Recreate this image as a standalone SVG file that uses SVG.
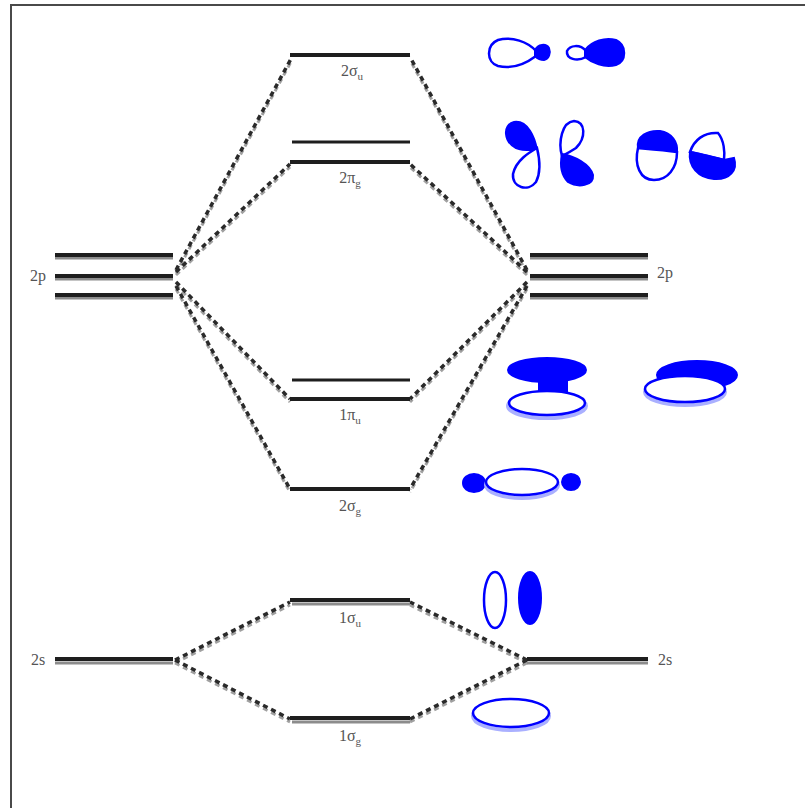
<svg xmlns="http://www.w3.org/2000/svg" width="805" height="808" viewBox="0 0 805 808">
  <style>
    .lvl { stroke: #1e1e1e; stroke-width: 4; fill: none; }
    .lvlsh { stroke: #8c8c8c; stroke-width: 3; fill: none; }
    .thin { stroke: #1e1e1e; stroke-width: 3; fill: none; }
    .dash { stroke: #2a2a2a; stroke-width: 3.5; stroke-dasharray: 5 4; fill: none; }
    .dashsh { stroke: #a0a0a0; stroke-width: 3; stroke-dasharray: 5 4; fill: none; }
    .lbl { font-family: "Liberation Serif", "DejaVu Serif", serif; font-size: 16px; fill: #555; text-anchor: middle; }
    .sub { font-size: 11px; }
    .fill { fill: #0000ff; stroke: #0000ff; stroke-width: 2; }
    .open { fill: #ffffff; stroke: #0000ff; stroke-width: 2.5; }
    .shadow { fill: none; stroke: #aab0ff; stroke-width: 4; }
  </style>

  <rect x="0" y="0" width="805" height="808" fill="#ffffff"/>
  <!-- frame -->
  <path d="M11,808 V5 H805" fill="none" stroke="#4a4a4a" stroke-width="2"/>

  <!-- connectors -->
  <g id="connectors">
    <g class="dashsh" transform="translate(0,3)">
      <path d="M176,270 L292,57"/>
      <path d="M176,272 L290,164"/>
      <path d="M176,282 L290,399"/>
      <path d="M176,286 L290,489"/>
      <path d="M527,270 L410,57"/>
      <path d="M527,272 L410,164"/>
      <path d="M527,282 L410,399"/>
      <path d="M527,286 L410,489"/>
      <path d="M175,660 L290,602"/>
      <path d="M175,660 L290,719"/>
      <path d="M527,660 L410,602"/>
      <path d="M527,660 L410,719"/>
    </g>
    <g class="dash">
      <path d="M176,270 L292,57"/>
      <path d="M176,272 L290,164"/>
      <path d="M176,282 L290,399"/>
      <path d="M176,286 L290,489"/>
      <path d="M527,270 L410,57"/>
      <path d="M527,272 L410,164"/>
      <path d="M527,282 L410,399"/>
      <path d="M527,286 L410,489"/>
      <path d="M175,660 L290,602"/>
      <path d="M175,660 L290,719"/>
      <path d="M527,660 L410,602"/>
      <path d="M527,660 L410,719"/>
    </g>
  </g>

  <!-- atomic 2p, left -->
  <g id="p2-left">
    <path class="lvlsh" d="M55,258 H173 M55,279 H173 M55,298 H173"/>
    <path class="lvl" d="M55,255 H173 M55,276 H173 M55,295 H173"/>
    <text class="lbl" x="38" y="281">2p</text>
  </g>

  <!-- atomic 2p, right -->
  <g id="p2-right">
    <path class="lvlsh" d="M530,258 H648 M530,279 H648 M530,298 H648"/>
    <path class="lvl" d="M530,255 H648 M530,276 H648 M530,295 H648"/>
    <text class="lbl" x="665" y="278">2p</text>
  </g>

  <!-- atomic 2s, left -->
  <g id="s2-left">
    <path class="lvlsh" d="M55,663 H173"/>
    <path class="lvl" d="M55,659 H173"/>
    <text class="lbl" x="38" y="665">2s</text>
  </g>

  <!-- atomic 2s, right -->
  <g id="s2-right">
    <path class="lvlsh" d="M527,663 H648"/>
    <path class="lvl" d="M527,659 H648"/>
    <text class="lbl" x="665" y="665">2s</text>
  </g>

  <!-- molecular levels -->
  <g id="sigma-u-2">
    <path class="lvl" d="M290,55 H410" stroke-width="5"/>
    <text class="lbl" x="352" y="76">2σ<tspan class="sub" dy="4">u</tspan></text>
  </g>

  <g id="pi-g-2">
    <path class="thin" d="M292,142 H410"/>
    <path class="lvl" d="M290,162 H410"/>
    <text class="lbl" x="350" y="183">2π<tspan class="sub" dy="4">g</tspan></text>
  </g>

  <g id="pi-u-1">
    <path class="thin" d="M292,380 H410"/>
    <path class="lvl" d="M290,399 H410" stroke-width="5"/>
    <text class="lbl" x="350" y="420">1π<tspan class="sub" dy="4">u</tspan></text>
  </g>

  <g id="sigma-g-2">
    <path class="lvl" d="M290,489 H410" stroke-width="5"/>
    <text class="lbl" x="350" y="511">2σ<tspan class="sub" dy="4">g</tspan></text>
  </g>

  <g id="sigma-u-1">
    <path class="lvlsh" d="M292,604 H410"/>
    <path class="lvl" d="M290,600 H410"/>
    <text class="lbl" x="350" y="623">1σ<tspan class="sub" dy="4">u</tspan></text>
  </g>

  <g id="sigma-g-1">
    <path class="lvlsh" d="M292,722 H410"/>
    <path class="lvl" d="M290,718 H410"/>
    <text class="lbl" x="350" y="741">1σ<tspan class="sub" dy="4">g</tspan></text>
  </g>

  <!-- orbital sketches -->
  <g id="orb-2su">
    <path class="open" d="M536,51 C528,42 512,36 498,40 C486,45 486,62 498,66 C514,70 528,62 536,56 Z"/>
    <path class="fill" d="M535,50 C538,44 546,43 549,48 C551,53 549,59 544,60 C540,60 537,58 535,56 Z"/>
    <path class="open" d="M586,51 C580,44 570,45 567,51 C566,59 577,62 586,57 Z"/>
    <path class="fill" d="M585,50 C592,41 605,37 616,40 C627,45 627,61 616,65 C604,68 592,63 585,57 Z"/>
  </g>

  <g id="orb-2pg">
    <!-- tilted pair, filled above -->
    <path class="fill" d="M537,150 C535,138 528,120 514,122 C502,125 504,142 516,148 C524,151 532,150 537,150 Z"/>
    <path class="open" d="M537,148 C530,152 516,160 513,174 C512,188 528,192 536,182 C541,172 540,160 537,148 Z"/>
    <!-- tilted pair, open above -->
    <path class="open" d="M562,156 C558,142 562,122 574,121 C586,122 586,138 576,148 C570,152 566,154 562,156 Z"/>
    <path class="fill" d="M562,154 C574,156 590,164 593,175 C594,186 578,188 568,182 C560,174 560,164 562,154 Z"/>
    <!-- side pair, filled above -->
    <path class="fill" d="M638,148 C636,136 648,130 660,131 C672,133 678,142 677,152 C664,150 650,149 638,148 Z"/>
    <path class="open" d="M638,148 C650,149 664,150 677,152 C677,168 668,180 654,180 C640,180 634,165 638,148 Z"/>
    <!-- side pair, open above -->
    <path class="open" d="M690,152 C694,140 704,132 718,133 C724,140 725,152 724,160 C712,157 700,154 690,152 Z"/>
    <path class="fill" d="M690,152 C700,154 712,157 724,160 L734,158 C738,170 730,180 714,179 C698,178 688,166 690,152 Z"/>
  </g>

  <g id="orb-1pu">
    <rect x="538" y="380" width="30" height="14" fill="#0000ff"/>
    <ellipse class="fill" cx="547" cy="370" rx="39" ry="12"/>
    <ellipse class="shadow" cx="547" cy="406" rx="39" ry="12"/>
    <ellipse class="open" cx="547" cy="403" rx="38" ry="12"/>
    <ellipse class="fill" cx="697" cy="375" rx="40" ry="14"/>
    <ellipse class="shadow" cx="685" cy="392" rx="40" ry="13"/>
    <ellipse class="open" cx="685" cy="389" rx="40" ry="13"/>
  </g>

  <g id="orb-2sg">
    <ellipse class="fill" cx="474" cy="483" rx="11" ry="9"/>
    <ellipse class="fill" cx="571" cy="482" rx="9" ry="8"/>
    <ellipse class="shadow" cx="522" cy="485" rx="36" ry="13"/>
    <ellipse class="open" cx="522" cy="482" rx="36" ry="13"/>
  </g>

  <g id="orb-1su">
    <ellipse class="open" cx="495" cy="600" rx="11" ry="28"/>
    <ellipse class="fill" cx="530" cy="598" rx="11" ry="26"/>
  </g>

  <g id="orb-1sg">
    <ellipse class="shadow" cx="511" cy="716" rx="38" ry="14"/>
    <ellipse class="open" cx="511" cy="713" rx="38" ry="14"/>
  </g>
</svg>
